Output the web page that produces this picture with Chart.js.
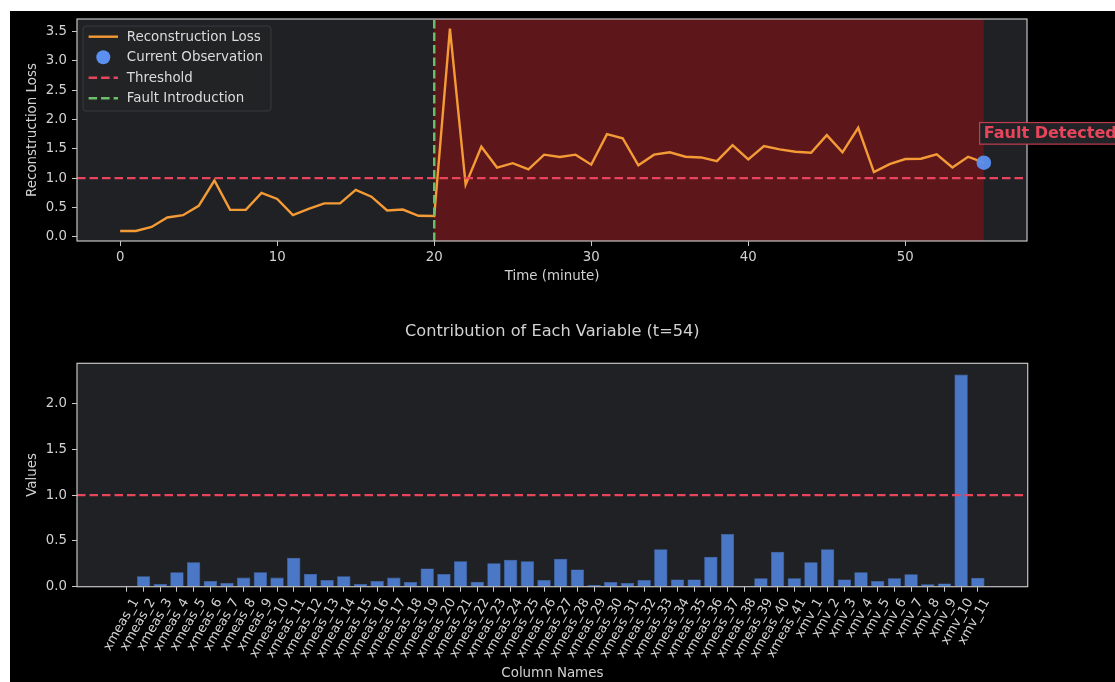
<!DOCTYPE html>
<html><head><meta charset="utf-8">
<script src="https://cdn.jsdelivr.net/npm/chart.js@4.4.1/dist/chart.umd.min.js"></script>
<style>
html,body{margin:0;padding:0;background:#fff;width:1115px;height:682px;overflow:hidden;}
#wrap{position:absolute;left:10px;top:11px;width:1105px;height:671px;background:#000;overflow:hidden;}
#c1{position:absolute;left:0;top:0;width:1105px;height:284px;}
#c2{position:absolute;left:0;top:284px;width:1105px;height:387px;}
</style></head><body>
<div id="wrap"><canvas id="c1" width="1105" height="284"></canvas><canvas id="c2" width="1105" height="387"></canvas></div>
<script>
// ---------- data ----------
const timeMinutes = [0,1,2,3,4,5,6,7,8,9,10,11,12,13,14,15,16,17,18,19,20,21,22,23,24,25,26,27,28,29,30,31,32,33,34,35,36,37,38,39,40,41,42,43,44,45,46,47,48,49,50,51,52,53,54,55];
const reconstructionLoss = [0.10,0.10,0.17,0.33,0.37,0.53,0.96,0.46,0.46,0.75,0.645,0.37,0.475,0.57,0.57,0.80,0.685,0.45,0.465,0.36,0.355,
  3.545,0.89,1.535,1.18,1.255,1.15,1.40,1.36,1.40,1.23,1.75,1.68,1.22,1.40,1.44,1.365,1.353,1.29,1.563,1.32,1.546,1.49,1.45,1.433,1.733,1.44,1.857,1.104,1.24,1.325,1.33,1.404,1.183,1.365,1.263];
const threshold = 1.0;
const faultStart = 20;
const annotationOffset = 0.5;
const xTicksTop = [0,10,20,30,40,50];
const yTicksTop = [0,0.5,1.0,1.5,2.0,2.5,3.0,3.5];

const columnNames = ['xmeas_1','xmeas_2','xmeas_3','xmeas_4','xmeas_5','xmeas_6','xmeas_7','xmeas_8','xmeas_9','xmeas_10',
  'xmeas_11','xmeas_12','xmeas_13','xmeas_14','xmeas_15','xmeas_16','xmeas_17','xmeas_18','xmeas_19','xmeas_20',
  'xmeas_21','xmeas_22','xmeas_23','xmeas_24','xmeas_25','xmeas_26','xmeas_27','xmeas_28','xmeas_29','xmeas_30',
  'xmeas_31','xmeas_32','xmeas_33','xmeas_34','xmeas_35','xmeas_36','xmeas_37','xmeas_38','xmeas_39','xmeas_40','xmeas_41',
  'xmv_1','xmv_2','xmv_3','xmv_4','xmv_5','xmv_6','xmv_7','xmv_8','xmv_9','xmv_10','xmv_11'];
const contributions = [0.01,0.113,0.03,0.157,0.266,0.062,0.04,0.10,0.157,0.10,
  0.317,0.138,0.073,0.113,0.03,0.062,0.10,0.051,0.20,0.138,
  0.277,0.055,0.255,0.295,0.277,0.073,0.306,0.189,0.018,0.051,
  0.04,0.073,0.41,0.08,0.08,0.328,0.576,0.007,0.091,0.383,0.091,
  0.266,0.41,0.08,0.157,0.062,0.091,0.135,0.026,0.036,2.317,0.098];
const yTicksBottom = [0,0.5,1.0,1.5,2.0];
const bottomTitle = 'Contribution of Each Variable (t=54)';

// ---------- style ----------
const FONT = '"DejaVu Sans", sans-serif';
Chart.defaults.font.family = FONT;
Chart.defaults.animation = false;
const TXT = '#d2d2d2';
const TICK = '#c8c8c8';
const PLOT_BG = '#202124';
const SHADE = '#5d171b';
const ORANGE = '#f59b36';
const RED = '#e8455c';
const GREEN = '#6cc06a';
const BLUE = '#5b8ff0';
const BAR = '#4a78c6';
const topX = [-2.75, 57.75];
const topY = [-0.07, 3.71];
const botX = [-2.99, 53.99];
const botY = [0, 2.44];

function areaBg(chart){
  const {ctx, chartArea:a} = chart;
  ctx.save(); ctx.fillStyle = PLOT_BG; ctx.fillRect(a.left, a.top, a.right-a.left, a.bottom-a.top); ctx.restore();
}
function areaBorder(chart){
  const {ctx, chartArea:a} = chart;
  ctx.save(); ctx.strokeStyle = '#c4c4c4'; ctx.lineWidth = 1.2;
  ctx.strokeRect(a.left, a.top, a.right-a.left, a.bottom-a.top); ctx.restore();
}

const topDecor = {
  id: 'topDecor',
  beforeDraw(chart){ areaBg(chart); },
  beforeDatasetsDraw(chart){
    const {ctx, chartArea:a, scales:{x}} = chart;
    const x0 = x.getPixelForValue(faultStart);
    const x1 = x.getPixelForValue(timeMinutes[timeMinutes.length-1]);
    ctx.save(); ctx.fillStyle = SHADE; ctx.fillRect(x0, a.top, x1-x0, a.bottom-a.top); ctx.restore();
  },
  afterDraw(chart){
    areaBorder(chart);
    const {ctx, chartArea:a, scales:{x,y}} = chart;
    // legend
    ctx.save();
    const lx = a.left + 6, ly = a.top + 7, lw = 188, lh = 85;
    ctx.beginPath();
    if (ctx.roundRect) ctx.roundRect(lx, ly, lw, lh, 3); else ctx.rect(lx, ly, lw, lh);
    ctx.fillStyle = 'rgba(34,35,38,0.85)'; ctx.fill();
    ctx.strokeStyle = '#3a3b3e'; ctx.lineWidth = 1; ctx.stroke();
    const rows = [
      {label:'Reconstruction Loss', kind:'line', color:ORANGE, dash:[]},
      {label:'Current Observation', kind:'dot', color:BLUE},
      {label:'Threshold', kind:'line', color:RED, dash:[8.5,4]},
      {label:'Fault Introduction', kind:'line', color:GREEN, dash:[8.5,4]}
    ];
    ctx.font = '13.4px ' + FONT; ctx.textBaseline = 'middle'; ctx.textAlign = 'left';
    rows.forEach((r, i) => {
      const cy = a.top + 17.7 + 20.5*i;
      const hx0 = a.left + 11.6, hx1 = a.left + 41;
      if (r.kind === 'line') {
        ctx.beginPath(); ctx.setLineDash(r.dash); ctx.strokeStyle = r.color; ctx.lineWidth = 2.4;
        ctx.moveTo(hx0, cy); ctx.lineTo(hx1, cy); ctx.stroke(); ctx.setLineDash([]);
      } else {
        ctx.beginPath(); ctx.fillStyle = r.color; ctx.arc((hx0+hx1)/2, cy, 7, 0, Math.PI*2); ctx.fill();
      }
      ctx.fillStyle = '#dcdcdc'; ctx.fillText(r.label, a.left + 49.8, cy + 0.5);
    });
    // annotation
    const li = timeMinutes.length - 1;
    const ax = x.getPixelForValue(timeMinutes[li]);
    const ay = y.getPixelForValue(reconstructionLoss[li] + annotationOffset);
    ctx.font = 'bold 16px ' + FONT;
    const tw = ctx.measureText('Fault Detected').width;
    ctx.fillStyle = '#222326'; ctx.fillRect(ax - 4.2, ay - 10.8, tw + 8.4, 21.6);
    ctx.strokeStyle = 'rgba(232,69,92,0.8)'; ctx.lineWidth = 1.2; ctx.strokeRect(ax - 4.2, ay - 10.8, tw + 8.4, 21.6);
    ctx.fillStyle = RED; ctx.textBaseline = 'middle'; ctx.fillText('Fault Detected', ax, ay + 0.5);
    ctx.restore();
  }
};

const botDecor = {
  id: 'botDecor',
  beforeDraw(chart){ areaBg(chart); },
  afterDraw(chart){
    areaBorder(chart);
    const {ctx, chartArea:a} = chart;
    ctx.save(); ctx.font = '16.2px ' + FONT; ctx.fillStyle = TXT; ctx.textAlign = 'center'; ctx.textBaseline = 'middle';
    ctx.fillText(bottomTitle, (a.left + a.right)/2, 36.7); ctx.restore();
  }
};

const gridOpts = {display:true, drawOnChartArea:false, drawTicks:true, tickLength:5, tickColor:TICK, color:TICK, offset:false};
function fixY(s){ s.width = 67; s.paddingTop = 0; s.paddingBottom = 0; }
function fixX(h){ return s => { s.height = h; s.paddingLeft = 0; s.paddingRight = 0; }; }

new Chart(document.getElementById('c1'), {
  type: 'line',
  data: { datasets: [
    { label:'Reconstruction Loss', data: timeMinutes.map((t,i)=>({x:t, y:reconstructionLoss[i]})),
      borderColor: ORANGE, borderWidth: 2.4, pointRadius: 0, tension: 0, order: 3 },
    { label:'Threshold', data: [{x:topX[0], y:threshold},{x:topX[1], y:threshold}],
      borderColor: RED, borderWidth: 2.4, borderDash:[8.5,4], pointRadius: 0, order: 2 },
    { label:'Fault Introduction', data: [{x:faultStart, y:topY[0]},{x:faultStart, y:topY[1]}],
      borderColor: GREEN, borderWidth: 2.4, borderDash:[8.5,4], pointRadius: 0, order: 1 },
    { type:'scatter', label:'Current Observation',
      data: [{x: timeMinutes[timeMinutes.length-1], y: reconstructionLoss[reconstructionLoss.length-1]}],
      backgroundColor: 'rgba(91,143,240,0.95)', borderWidth: 0, pointRadius: 7.3, order: 0 }
  ]},
  options: {
    responsive: false, maintainAspectRatio: false,
    layout: { padding: {left:0, right:88, top:8, bottom:0} },
    plugins: { legend:{display:false}, tooltip:{enabled:false} },
    scales: {
      x: { type:'linear', min:topX[0], max:topX[1],
        afterBuildTicks: s => { s.ticks = xTicksTop.map(v => ({value:v})); },
        afterFit: fixX(54),
        grid: gridOpts, border:{display:false},
        ticks: { color:TXT, font:{size:13.3}, padding:4, maxRotation:0, callback: v => String(v) },
        title: { display:true, text:'Time (minute)', color:TXT, font:{size:13.4}, padding:{top:0, bottom:10.3} } },
      y: { min:topY[0], max:topY[1],
        afterBuildTicks: s => { s.ticks = yTicksTop.map(v => ({value:v})); },
        afterFit: fixY,
        grid: gridOpts, border:{display:false},
        ticks: { color:TXT, font:{size:13.3}, padding:5, callback: v => Number(v).toFixed(1) },
        title: { display:true, text:'Reconstruction Loss', color:TXT, font:{size:13.4}, padding:{top:14, bottom:0} } }
    }
  },
  plugins: [topDecor]
});

new Chart(document.getElementById('c2'), {
  type: 'bar',
  data: { datasets: [
    { type:'line', label:'Threshold', data:[{x:botX[0], y:threshold},{x:botX[1], y:threshold}],
      borderColor: RED, borderWidth: 2.4, borderDash:[8.5,4], pointRadius: 0, order: 0 },
    { label:'Values', data: columnNames.map((n,i)=>({x:i, y:contributions[i]})),
      backgroundColor: BAR, borderColor: '#4472bd', borderWidth: 0.6, barPercentage: 0.8, categoryPercentage: 1.0, order: 1 }
  ]},
  options: {
    responsive: false, maintainAspectRatio: false,
    layout: { padding: {left:0, right:87.3, top:68.3, bottom:0} },
    plugins: { legend:{display:false}, tooltip:{enabled:false} },
    scales: {
      x: { type:'linear', min:botX[0], max:botX[1], offset:false,
        afterBuildTicks: s => { s.ticks = columnNames.map((_, i) => ({value:i})); },
        afterFit: fixX(95.3),
        grid: gridOpts, border:{display:false},
        ticks: { color:TXT, font:{size:13}, padding:4, labelOffset:9, autoSkip:false, minRotation:60, maxRotation:60,
          callback: v => columnNames[Math.round(v)] },
        title: { display:true, text:'Column Names', color:TXT, font:{size:13.4}, padding:{top:0, bottom:0.7} } },
      y: { min:botY[0], max:botY[1],
        afterBuildTicks: s => { s.ticks = yTicksBottom.map(v => ({value:v})); },
        afterFit: fixY,
        grid: gridOpts, border:{display:false},
        ticks: { color:TXT, font:{size:13.3}, padding:5, callback: v => Number(v).toFixed(1) },
        title: { display:true, text:'Values', color:TXT, font:{size:13.4}, padding:{top:14, bottom:0} } }
    }
  },
  plugins: [botDecor]
});
</script>
</body></html>
